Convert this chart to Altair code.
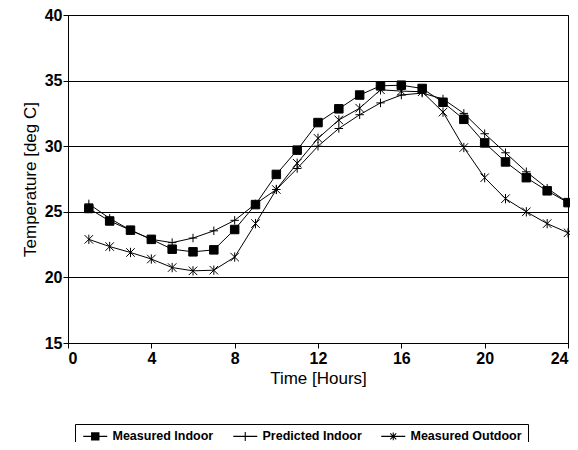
import altair as alt
import pandas as pd

hours = list(range(1, 25))
measured_indoor = [25.25, 24.3, 23.6, 22.9, 22.15, 21.95, 22.1, 23.65, 25.55, 27.85, 29.7, 31.8,
                   32.85, 33.9, 34.6, 34.65, 34.4, 33.35, 32.05, 30.25, 28.8, 27.6, 26.6, 25.7]
predicted_indoor = [25.6, 24.5, 23.6, 22.9, 22.65, 23.0, 23.55, 24.35, 25.6, 26.7, 28.3, 30.0,
                    31.35, 32.4, 33.3, 33.9, 34.05, 33.6, 32.5, 30.95, 29.5, 28.05, 26.8, 25.7]
measured_outdoor = [22.9, 22.35, 21.9, 21.4, 20.75, 20.5, 20.55, 21.55, 24.1, 26.7, 28.7, 30.6,
                    32.0, 32.9, 34.3, 34.2, 34.15, 32.6, 29.9, 27.6, 26.0, 25.0, 24.1, 23.4]

series_names = ["Measured Indoor", "Predicted Indoor", "Measured Outdoor"]
x_ticks = [0, 4, 8, 12, 16, 20, 24]
y_ticks = [15, 20, 25, 30, 35, 40]

rows = []
for name, vals in zip(series_names, [measured_indoor, predicted_indoor, measured_outdoor]):
    for h, v in zip(hours, vals):
        rows.append({"Hour": h, "Temp": v, "Series": name})
df = pd.DataFrame(rows)

# plot markers (stroked / filled)
marker_paths = [
    "M-1,-1H1V1H-1Z",
    "M-1,0H1M0,-1V1",
    "M-1,-1L1,1M-1,1L1,-1M0,-1.1V1.1",
]
# legend keys drawn as filled outlines: line through a marker
HL = "M-2,-0.09H2V0.09H-2Z"
legend_paths = [
    HL + "M-0.7,-0.7H0.7V0.7H-0.7Z",
    HL + "M-0.09,-0.75H0.09V0.75H-0.09Z",
    HL + "M-0.09,-0.65H0.09V0.65H-0.09Z"
       + "M-0.56,-0.44L-0.44,-0.56L0.56,0.44L0.44,0.56Z"
       + "M-0.56,0.44L0.44,-0.56L0.56,-0.44L-0.44,0.56Z",
]

FONT = "Liberation Sans"

x_enc = alt.X("Hour:Q", scale=alt.Scale(domain=[0, 24], nice=False),
              axis=alt.Axis(values=x_ticks, title="Time [Hours]", grid=False))
y_enc = alt.Y("Temp:Q", scale=alt.Scale(domain=[15, 40], nice=False, zero=False),
              axis=alt.Axis(values=y_ticks, title="Temperature [deg C]", grid=True))

base = alt.Chart(df)

lines = base.mark_line(color="black", strokeWidth=1).encode(
    x=x_enc, y=y_enc, detail="Series:N"
)

points = base.mark_point(filled=True, fill="black", stroke="black", strokeWidth=1, opacity=1).encode(
    x=x_enc, y=y_enc,
    shape=alt.Shape("Series:N", scale=alt.Scale(domain=series_names, range=marker_paths), legend=None),
    size=alt.value(72),
)

legend_layer = base.mark_point(filled=True, fill="black", opacity=0).encode(
    x=x_enc, y=y_enc,
    shape=alt.Shape("Series:N", scale=alt.Scale(domain=series_names, range=legend_paths),
                    legend=alt.Legend(
                        title=None, orient="none", direction="horizontal",
                        legendX=7, legendY=409,
                        strokeColor="black", padding=6,
                        symbolSize=144, symbolFillColor="black", symbolStrokeColor="black",
                        symbolStrokeWidth=0, symbolOpacity=1, symbolOffset=8,
                        labelFont=FONT, labelFontSize=12.5, labelFontWeight="bold",
                        labelColor="black", columnPadding=17, labelOffset=11,
                    )),
)

chart = alt.layer(lines, points, legend_layer).resolve_scale(shape="independent").properties(
    width=500, height=328,
    autosize=alt.AutoSizeParams(type="none"),
    padding={"left": 60, "top": 7, "right": 2, "bottom": 99},
).configure_view(
    stroke="black", strokeWidth=1
).configure_axis(
    domainColor="black", tickColor="black", gridColor="black", gridOpacity=1, gridWidth=1,
    labelFont=FONT, labelFontSize=16, labelFontWeight="bold", labelColor="black",
    titleFont=FONT, titleFontSize=17, titleFontWeight="normal", titleColor="black",
    tickSize=5,
).configure_axisY(
    titlePadding=5, labelPadding=1
).configure_axisX(
    titlePadding=4, labelPadding=2
)

chart.save("out.html", embed_options={"renderer": "svg", "actions": False})
